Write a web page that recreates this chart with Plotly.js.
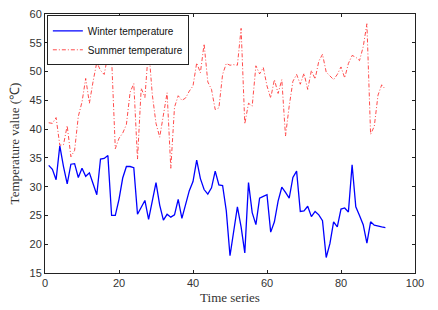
<!DOCTYPE html>
<html>
<head>
<meta charset="utf-8">
<script src="https://cdn.plot.ly/plotly-3.0.1.min.js"></script>
<style>html,body{margin:0;padding:0;background:#fff;}#chart{width:438px;height:310px;}</style>
</head>
<body>
<div id="chart"></div>
<script>
const timeSeries = Array.from({length: 92}, (_, i) => i + 1);
const winterTemp = [33.7,33.0,31.2,37.1,33.5,30.5,33.9,34.0,31.6,33.2,31.8,32.4,30.5,28.6,34.8,34.9,35.4,25.0,25.0,27.8,
31.5,33.5,33.5,33.3,25.2,26.4,27.6,24.3,27.2,30.7,26.8,24.2,25.2,24.7,25.1,27.8,24.5,26.8,29.3,30.9,
34.6,31.4,29.5,28.7,29.8,32.7,30.3,30.2,25.8,18.0,22.0,26.5,23.0,18.5,30.7,25.5,23.4,28.0,28.3,28.6,
22.1,23.9,27.5,29.9,29.0,28.0,31.6,32.7,25.7,25.8,26.6,24.8,25.7,25.1,24.1,17.7,20.1,23.9,23.0,26.1,
26.3,25.6,33.8,26.5,25.0,23.4,20.2,23.9,23.3,23.1,23.0,22.9];
const summerTemp = [41.1,41.0,42.0,37.2,37.3,40.6,35.2,36.3,42.2,44.7,48.8,44.5,48.3,51.6,50.2,49.5,52.9,52.4,36.6,38.4,
39.3,40.8,46.4,47.9,34.8,47.1,45.5,54.2,46.0,41.0,38.6,42.6,46.3,33.2,43.8,45.8,45.0,45.4,46.6,47.5,
51.5,49.8,54.8,48.2,46.9,43.4,43.7,49.5,51.4,51.1,51.2,51.1,57.5,40.9,44.5,44.0,51.0,49.6,50.7,47.5,
45.4,48.6,46.2,48.6,38.8,44.0,48.3,49.5,47.8,49.7,46.9,50.2,48.7,51.8,53.0,49.9,49.2,48.6,49.5,50.8,
48.9,51.4,52.8,52.5,51.9,54.3,58.3,39.1,40.5,45.9,47.7,46.9];
const seriesNames = ['Winter temperature', 'Summer temperature'];
const xTicks = [0, 20, 40, 60, 80, 100];
const yTicks = [15, 20, 25, 30, 35, 40, 45, 50, 55, 60];

const axisCommon = {
  showgrid: false, zeroline: false, showline: true, mirror: 'allticks',
  linecolor: '#222', linewidth: 1, ticks: 'inside', ticklen: 3, tickcolor: '#222',
  tickfont: {family: 'Liberation Sans, Arial, sans-serif', size: 11, color: '#333'}
};

const data = [
  {x: timeSeries, y: winterTemp, name: seriesNames[0], mode: 'lines', type: 'scatter',
   line: {color: '#0000ff', width: 1.3}},
  {x: timeSeries, y: summerTemp, name: seriesNames[1], mode: 'lines', type: 'scatter',
   line: {color: '#ff2020', width: 0.8, dash: '4px,2px,1px,2px'}}
];

const layout = {
  width: 438, height: 310,
  margin: {l: 45, r: 23, t: 14, b: 37},
  paper_bgcolor: '#fff', plot_bgcolor: '#fff',
  showlegend: true,
  legend: {x: 0.005, y: 0.995, xanchor: 'left', yanchor: 'top',
    bordercolor: '#222', borderwidth: 1, bgcolor: '#fff',
    font: {family: 'Liberation Sans, Arial, sans-serif', size: 10, color: '#111'},
    tracegroupgap: 0, itemwidth: 30},
  xaxis: Object.assign({}, axisCommon, {range: [0, 100], tickvals: xTicks,
    title: {text: 'Time series', standoff: 4, font: {family: 'Liberation Serif, Times New Roman, serif', size: 13, color: '#333'}}}),
  yaxis: Object.assign({}, axisCommon, {range: [15, 60], tickvals: yTicks,
    title: {text: 'Temperature value (℃)', standoff: 6, font: {family: 'Liberation Serif, Times New Roman, serif', size: 13, color: '#333'}}})
};

Plotly.newPlot('chart', data, layout, {displayModeBar: false, staticPlot: true});
</script>
</body>
</html>
